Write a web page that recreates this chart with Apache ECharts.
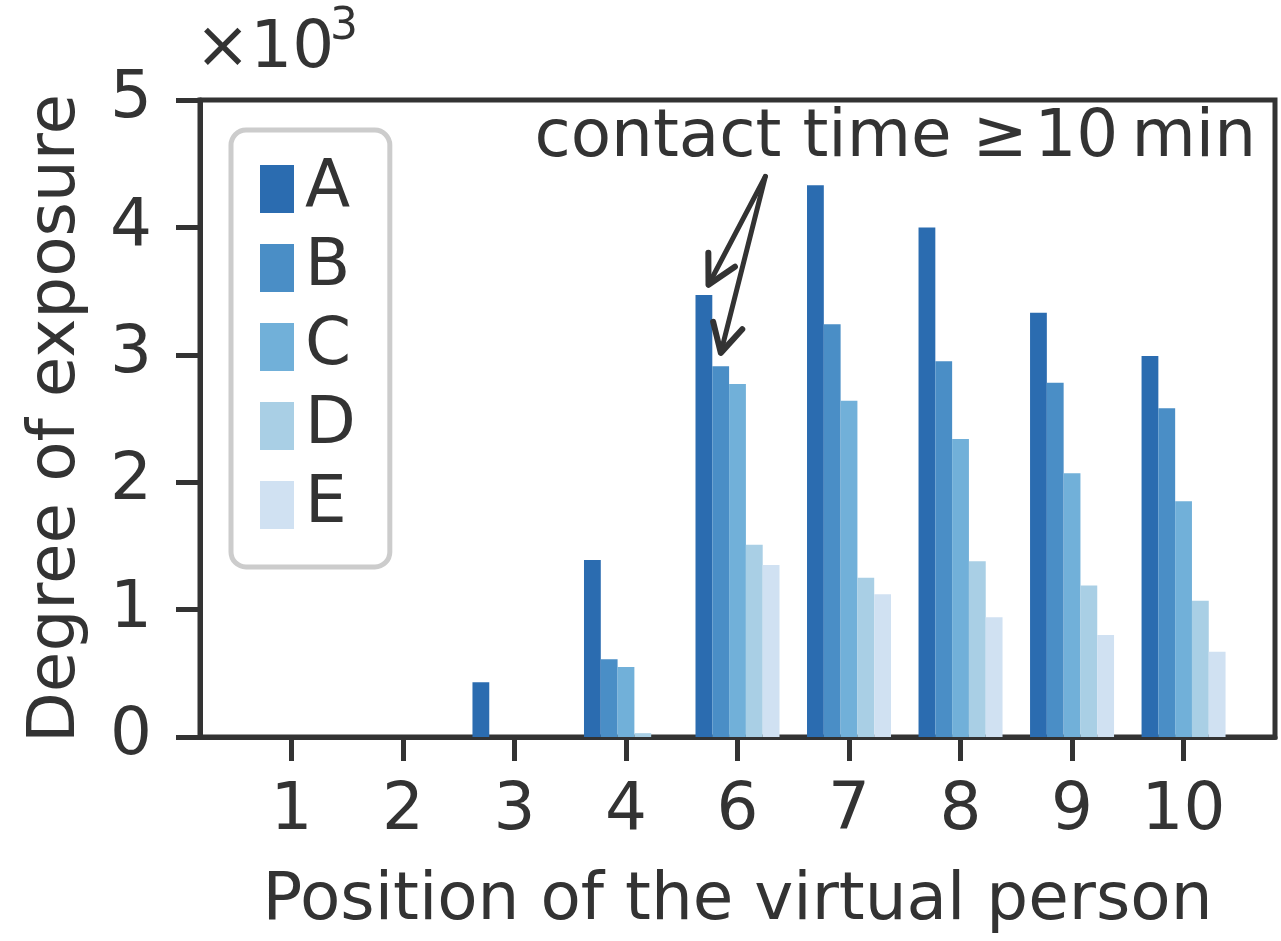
<!DOCTYPE html>
<html><head><meta charset="utf-8">
<script src="https://cdn.jsdelivr.net/npm/echarts@6/dist/echarts.min.js"></script>
<style>html,body{margin:0;padding:0;background:#fff}#c{width:1281px;height:941px}</style>
</head><body><div id="c"></div>
<script>
// ---- data ----
const categories = ['1', '2', '3', '4', '6', '7', '8', '9', '10'];
const seriesNames = ['A', 'B', 'C', 'D', 'E'];
const valuesA = [0, 0, 430, 1390, 3470, 4330, 4000, 3330, 2990];
const valuesB = [0, 0, 0, 610, 2910, 3240, 2950, 2780, 2580];
const valuesC = [0, 0, 0, 550, 2770, 2640, 2340, 2070, 1850];
const valuesD = [0, 0, 0, 30, 1510, 1250, 1380, 1190, 1070];
const valuesE = [0, 0, 0, 0, 1350, 1120, 940, 800, 670];
const yTicks = [0, 1000, 2000, 3000, 4000, 5000];
const xTitle = 'Position of the virtual person';
const yTitle = 'Degree of exposure';
const annotationText = 'contact time \u2265\u200a10\u2009min';
const arrowStart = [4.25, 4400];
const arrowTips = [[3.74, 3550], [3.85, 3015]];

const colors = ['#2b6cb0', '#4a8ec6', '#71b0d9', '#a9cfe5', '#d0e1f2'];
const FONT = 'DejaVu Sans';
const INK = '#333333';
const allValues = [valuesA, valuesB, valuesC, valuesD, valuesE];

const chart = echarts.init(document.getElementById('c'), null, {renderer: 'canvas'});
const catIdx = categories.map((c, i) => i);

const option = {
  animation: false,
  backgroundColor: '#ffffff',
  grid: {left: 200, top: 100, right: 6, bottom: 204, show: true, borderWidth: 5, borderColor: INK, backgroundColor: 'transparent'},
  legend: {
    data: seriesNames, orient: 'vertical', left: 231, top: 130,
    icon: 'rect', itemWidth: 34, itemHeight: 48, itemGap: 13,
    padding: [26, 34, 29, 29],
    backgroundColor: '#ffffff', borderColor: '#cccccc', borderWidth: 5, borderRadius: 15,
    textStyle: {fontFamily: FONT, fontSize: 66, color: INK, padding: [0, 0, 0, 6]}
  },
  xAxis: {
    type: 'value', min: -0.82, max: 8.82,
    name: xTitle, nameLocation: 'middle', nameGap: 132,
    nameTextStyle: {fontFamily: FONT, fontSize: 66, color: INK, lineHeight: 66},
    axisLine: {show: true, onZero: false, lineStyle: {color: INK, width: 5}},
    axisTick: {show: true, inside: false, length: 24, lineStyle: {color: INK, width: 5}, customValues: catIdx},
    axisLabel: {fontFamily: FONT, fontSize: 66, color: INK, lineHeight: 66, margin: 42,
      customValues: catIdx, formatter: v => categories[Math.round(v)] || ''},
    splitLine: {show: false}
  },
  yAxis: {
    type: 'value', min: 0, max: 5000, interval: 1000,
    name: yTitle, nameLocation: 'middle', nameGap: 110, nameRotate: 90,
    nameTextStyle: {fontFamily: FONT, fontSize: 66, color: INK, lineHeight: 66},
    axisLine: {show: true, onZero: false, lineStyle: {color: INK, width: 5}},
    axisTick: {show: true, inside: false, length: 24, lineStyle: {color: INK, width: 5}},
    axisLabel: {fontFamily: FONT, fontSize: 66, color: INK, margin: 48, formatter: v => String(v / 1000)},
    splitLine: {show: false}
  },
  series: seriesNames.map((n, k) => ({
    name: n, type: 'bar', barWidth: 16.8, barGap: '0%',
    itemStyle: {color: colors[k]},
    data: allValues[k].map((v, i) => [i, v])
  })),
  graphic: [
    {id: 'mul', type: 'text', left: 195, top: 17, style: {text: '\u00d710', font: '66px "DejaVu Sans"', fill: INK}},
    {id: 'exp', type: 'text', left: 330, top: 6, style: {text: '3', font: '44px "DejaVu Sans"', fill: INK}},
    {id: 'ann', type: 'text', right: 25, top: 106, style: {text: annotationText, font: '66px "DejaVu Sans"', fill: INK}}
  ]
};
chart.setOption(option);

// arrows from the annotation to the bars, placed through the chart's own scales
const p0 = chart.convertToPixel({gridIndex: 0}, arrowStart);
const arrowEls = [];
arrowTips.forEach((t, k) => {
  const p = chart.convertToPixel({gridIndex: 0}, t);
  const dx = p[0] - p0[0], dy = p[1] - p0[1];
  const len = Math.hypot(dx, dy);
  const ux = dx / len, uy = dy / len;
  const L = 32, th = 28 * Math.PI / 180;
  const rot = (a) => [ux * Math.cos(a) - uy * Math.sin(a), ux * Math.sin(a) + uy * Math.cos(a)];
  const r1 = rot(th), r2 = rot(-th);
  arrowEls.push({id: 'shaft' + k, type: 'polyline', z: 100,
    shape: {points: [p0, p]}, style: {stroke: INK, lineWidth: 5, lineCap: 'round', fill: null}});
  arrowEls.push({id: 'head' + k, type: 'polyline', z: 100,
    shape: {points: [[p[0] - L * r1[0], p[1] - L * r1[1]], p, [p[0] - L * r2[0], p[1] - L * r2[1]]]},
    style: {stroke: INK, lineWidth: 6, lineCap: 'round', lineJoin: 'round', fill: null}});
});
chart.setOption({graphic: arrowEls});
</script></body></html>
